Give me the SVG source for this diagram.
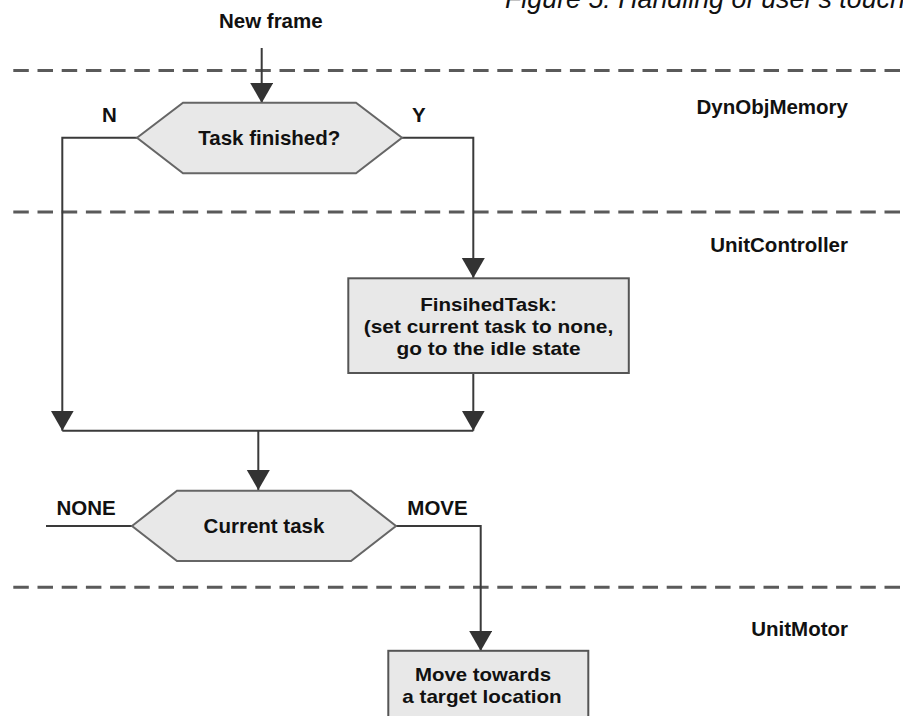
<svg xmlns="http://www.w3.org/2000/svg" width="903" height="716" viewBox="0 0 903 716">
<defs>
<style>
.t{font-family:"Liberation Sans",Arial,sans-serif;font-weight:bold;font-size:20.5px;fill:#111;text-anchor:middle}
.b{font-family:"Liberation Sans",Arial,sans-serif;font-weight:bold;font-size:19px;fill:#111;text-anchor:middle}
.lane{font-family:"Liberation Sans",Arial,sans-serif;font-weight:bold;font-size:20.5px;fill:#111;text-anchor:end}
.title{font-family:"Liberation Sans",Arial,sans-serif;font-style:italic;font-size:26.8px;fill:#111}
.dash{stroke:#5a5a5a;stroke-width:3;stroke-dasharray:15.5 8.7;fill:none}
.shape{fill:#e8e8e8;stroke:#666;stroke-width:2}
.box{fill:#e8e8e8;stroke:#555;stroke-width:2}
.c{fill:none;stroke:#3a3a3a;stroke-width:2}
</style>
<marker id="ah" markerUnits="userSpaceOnUse" markerWidth="21" markerHeight="24" refX="20" refY="11.5" orient="auto" viewBox="0 0 21 24">
<path d="M0,0 L20,11.5 L0,23 z" fill="#333"/>
</marker>
</defs>
<rect width="903" height="716" fill="#fff"/>
<text class="title" x="505" y="8">Figure 5: Handling of user's touch</text>
<g id="lanes">
<line class="dash" x1="13.3" y1="70.5" x2="903" y2="70.5"/>
<line class="dash" x1="13.3" y1="212" x2="903" y2="212"/>
<line class="dash" x1="13.3" y1="587.3" x2="903" y2="587.3"/>
<text class="lane" x="848" y="114">DynObjMemory</text>
<text class="lane" x="848" y="252.3">UnitController</text>
<text class="lane" x="848" y="635.7">UnitMotor</text>
</g>
<g id="connectors">
<path class="c" d="M261.7,48 V103" marker-end="url(#ah)"/>
<path class="c" d="M137,137.7 H62.3 V430.7" marker-end="url(#ah)"/>
<path class="c" d="M402,137.7 H473.3 V278" marker-end="url(#ah)"/>
<path class="c" d="M473.3,373 V430.7" marker-end="url(#ah)"/>
<path class="c" d="M62.3,430.7 H473.3"/>
<path class="c" d="M258.3,430.7 V490" marker-end="url(#ah)"/>
<path class="c" d="M46,526 H132"/>
<path class="c" d="M396,526 H480.7 V651" marker-end="url(#ah)"/>
<text class="t" x="109.4" y="122.3">N</text>
<text class="t" x="418.8" y="122.3">Y</text>
<text class="t" x="86" y="515">NONE</text>
<text class="t" x="437.5" y="515">MOVE</text>
</g>
<g id="start">
<text class="t" x="270.8" y="28.3">New frame</text>
</g>
<g id="task-finished">
<polygon class="shape" points="137,137.7 183,102.7 356,102.7 402,137.7 356,173.3 183,173.3"/>
<text class="t" x="269.3" y="145">Task finished?</text>
</g>
<g id="finished-task">
<rect class="box" x="348.3" y="278.3" width="280.5" height="94.7"/>
<text class="b" x="488.5" y="310.7" textLength="136.7" lengthAdjust="spacingAndGlyphs">FinsihedTask:</text>
<text class="b" x="488.5" y="332.7" textLength="249.4" lengthAdjust="spacingAndGlyphs">(set current task to none,</text>
<text class="b" x="488.5" y="354.7" textLength="184" lengthAdjust="spacingAndGlyphs">go to the idle state</text>
</g>
<g id="current-task">
<polygon class="shape" points="132,526 177,490.8 351,490.8 396,526 351,561 177,561"/>
<text class="t" x="264" y="533.3">Current task</text>
</g>
<g id="move-target">
<rect class="box" x="388.3" y="650.8" width="200" height="90"/>
<text class="b" x="483" y="680.7" textLength="136" lengthAdjust="spacingAndGlyphs">Move towards</text>
<text class="b" x="482" y="702.7" textLength="159.4" lengthAdjust="spacingAndGlyphs">a target location</text>
</g>
</svg>
